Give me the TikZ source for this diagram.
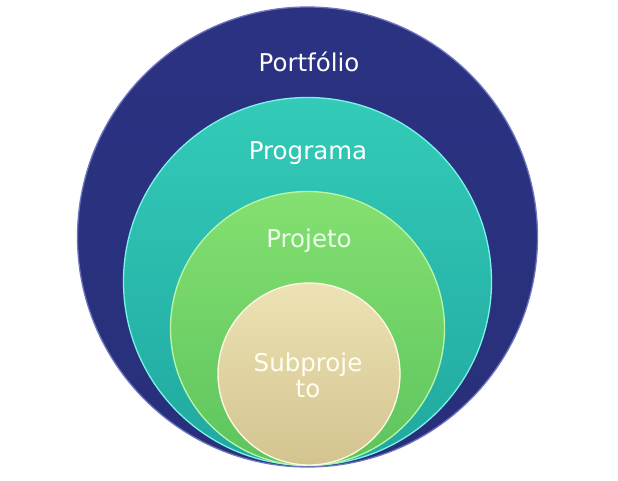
\documentclass[tikz,border=0pt]{standalone}
\usepackage{fontspec}
\setmainfont{DejaVu Sans}
\definecolor{navyA}{HTML}{2B3282}
\definecolor{navyB}{HTML}{28307A}
\definecolor{navyR}{HTML}{6E74BE}
\definecolor{tealA}{HTML}{33CBB8}
\definecolor{tealB}{HTML}{20A8A0}
\definecolor{tealR}{HTML}{7CF2EA}
\definecolor{greenA}{HTML}{84E070}
\definecolor{greenB}{HTML}{5CC45E}
\definecolor{greenR}{HTML}{BDF5A8}
\definecolor{beigeA}{HTML}{EDE2B4}
\definecolor{beigeB}{HTML}{D3C48F}
\definecolor{beigeR}{HTML}{FFFAE4}
\begin{document}
\begin{tikzpicture}[x=1pt,y=1pt,
  disc/.style={circle, inner sep=0pt, line width=1.3pt},
  lbl/.style={text=white, font=\fontsize{24.5}{28}\selectfont, align=center}]
\useasboundingbox (0,0) rectangle (618,481);
\fill[white] (0,0) rectangle (618,481);
\node[disc, minimum size=460pt, top color=navyA, bottom color=navyB, draw=navyR] (portfolio) at (307.5,244) {};
\node[disc, minimum size=368pt, top color=tealA, bottom color=tealB, draw=tealR] (programa) at (307.5,199.5) {};
\node[disc, minimum size=274pt, top color=greenA, bottom color=greenB, draw=greenR] (projeto) at (307.5,152.5) {};
\node[disc, minimum size=182pt, top color=beigeA, bottom color=beigeB, draw=beigeR] (subprojeto) at (309,107) {};
\node[lbl] (tportfolio) at (309,419) {Portfólio};
\node[lbl] (tprograma) at (308,328) {Programa};
\node[lbl, text=white!92!green] (tprojeto) at (309,240) {Projeto};
\node[lbl, text=white!95!yellow] (tsub) at (308,106) {Subproje\\[-2pt]to};
\end{tikzpicture}
\end{document}
